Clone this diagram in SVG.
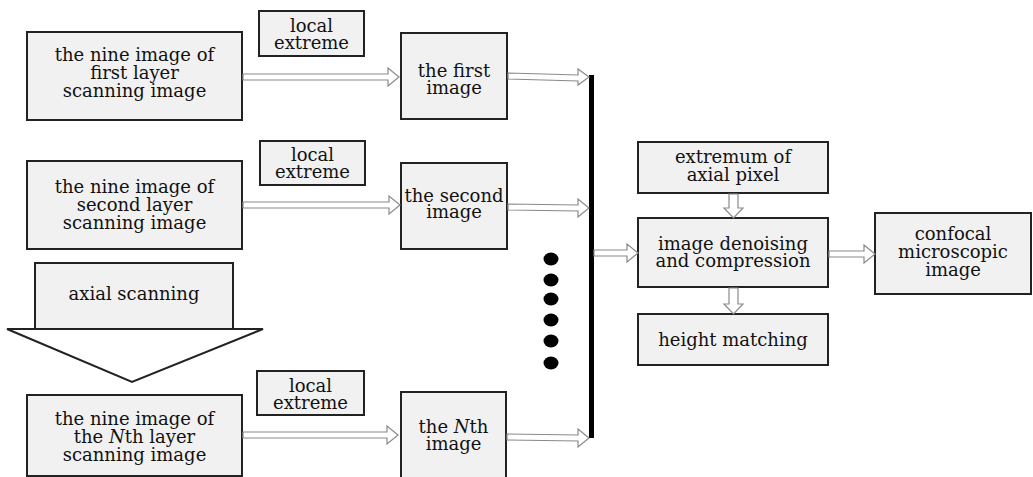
<svg xmlns="http://www.w3.org/2000/svg" width="1033" height="477" viewBox="0 0 1033 477">
  <style>
    .box { fill: #f1f1f1; stroke: #222; stroke-width: 2; }
    .txt { font-family: "DejaVu Serif", "Liberation Serif", serif; font-size: 18px; fill: #111; text-anchor: middle; }
    .arr { fill: #fff; stroke: #8a8a8a; stroke-width: 1.2; stroke-linejoin: miter; }
    .bar { fill: #000; }
    .dot { fill: #000; }
  </style>
  <rect width="1033" height="477" fill="#fff"/>

  <!-- layer inputs -->
  <g id="layer1">
    <rect class="box" x="27" y="32" width="215" height="88"/>
    <text class="txt" x="134.5" y="61">the nine image of</text>
    <text class="txt" x="134.5" y="79">first layer</text>
    <text class="txt" x="134.5" y="97">scanning image</text>
  </g>
  <g id="extreme1">
    <rect class="box" x="259" y="11" width="105" height="45"/>
    <text class="txt" x="311.5" y="32">local</text>
    <text class="txt" x="311.5" y="49">extreme</text>
  </g>
  <g id="image1">
    <rect class="box" x="401" y="33" width="106" height="86"/>
    <text class="txt" x="454" y="77">the first</text>
    <text class="txt" x="454" y="94">image</text>
  </g>

  <g id="layer2">
    <rect class="box" x="27" y="161" width="215" height="88"/>
    <text class="txt" x="134.5" y="193">the nine image of</text>
    <text class="txt" x="134.5" y="211">second layer</text>
    <text class="txt" x="134.5" y="229">scanning image</text>
  </g>
  <g id="extreme2">
    <rect class="box" x="260" y="141" width="105" height="44"/>
    <text class="txt" x="312.5" y="161">local</text>
    <text class="txt" x="312.5" y="178">extreme</text>
  </g>
  <g id="image2">
    <rect class="box" x="401" y="163" width="106" height="86"/>
    <text class="txt" x="454" y="202">the second</text>
    <text class="txt" x="454" y="218">image</text>
  </g>

  <!-- axial scanning block arrow -->
  <g id="axial">
    <rect class="box" x="35" y="263" width="198" height="66"/>
    <polygon points="7,329 263,329 132,382" fill="#fff" stroke="#222" stroke-width="2" stroke-linejoin="miter"/>
    <text class="txt" x="134" y="300">axial scanning</text>
  </g>

  <g id="layerN">
    <rect class="box" x="27" y="395" width="215" height="81"/>
    <text class="txt" x="134.5" y="425">the nine image of</text>
    <text class="txt" x="134.5" y="443">the <tspan font-style="italic">N</tspan>th layer</text>
    <text class="txt" x="134.5" y="461">scanning image</text>
  </g>
  <g id="extremeN">
    <rect class="box" x="257" y="371" width="107" height="44"/>
    <text class="txt" x="310.5" y="392">local</text>
    <text class="txt" x="310.5" y="409">extreme</text>
  </g>
  <g id="imageN">
    <rect class="box" x="401" y="392" width="105" height="90"/>
    <text class="txt" x="453.5" y="433">the <tspan font-style="italic">N</tspan>th</text>
    <text class="txt" x="453.5" y="450">image</text>
  </g>

  <!-- collector bar and ellipsis dots -->
  <g id="collector">
    <rect class="bar" x="589" y="75" width="5" height="363"/>
    <ellipse class="dot" cx="551" cy="259" rx="7.5" ry="6.5"/>
    <ellipse class="dot" cx="551" cy="280" rx="7.5" ry="6.5"/>
    <ellipse class="dot" cx="551" cy="299" rx="7.5" ry="6.5"/>
    <ellipse class="dot" cx="551" cy="320" rx="7.5" ry="6.5"/>
    <ellipse class="dot" cx="551" cy="341" rx="7.5" ry="6.5"/>
    <ellipse class="dot" cx="551" cy="363" rx="7.5" ry="6.5"/>
  </g>

  <!-- processing chain -->
  <g id="extremum">
    <rect class="box" x="638" y="142" width="190" height="51"/>
    <text class="txt" x="733" y="163">extremum of</text>
    <text class="txt" x="733" y="181">axial pixel</text>
  </g>
  <g id="denoise">
    <rect class="box" x="638" y="218" width="190" height="69"/>
    <text class="txt" x="733" y="250">image denoising</text>
    <text class="txt" x="733" y="267">and compression</text>
  </g>
  <g id="height">
    <rect class="box" x="638" y="314" width="190" height="51"/>
    <text class="txt" x="733" y="346">height matching</text>
  </g>
  <g id="confocal">
    <rect class="box" x="875" y="213" width="156" height="81"/>
    <text class="txt" x="953" y="240">confocal</text>
    <text class="txt" x="953" y="258">microscopic</text>
    <text class="txt" x="953" y="276">image</text>
  </g>

  <!-- hollow arrows -->
  <g id="connectors">
    <polygon class="arr" points="243,74 388,74 388,68 399,77 388,86 388,80 243,80"/>
    <polygon class="arr" points="508,73 578,75 578,69 589,77 578,85 578,81 508,79"/>
    <polygon class="arr" points="243,202 389,202 389,196 400,205 389,214 389,208 243,208"/>
    <polygon class="arr" points="508,204 578,205 578,199 589,208 578,217 578,211 508,210"/>
    <polygon class="arr" points="243,432 387,432 387,426 398,435 387,444 387,438 243,438"/>
    <polygon class="arr" points="507,434 578,435 578,429 589,438 578,447 578,441 507,440"/>
    <polygon class="arr" points="594,250 627,250 627,244 638,253 627,262 627,256 594,256"/>
    <polygon class="arr" points="829,251 864,251 864,245 875,254 864,263 864,257 829,257"/>
    <polygon class="arr" points="729,194 738,194 738,208 743,208 733.5,218 724,208 729,208"/>
    <polygon class="arr" points="729,288 738,288 738,304 743,304 733.5,314 724,304 729,304"/>
  </g>
</svg>
